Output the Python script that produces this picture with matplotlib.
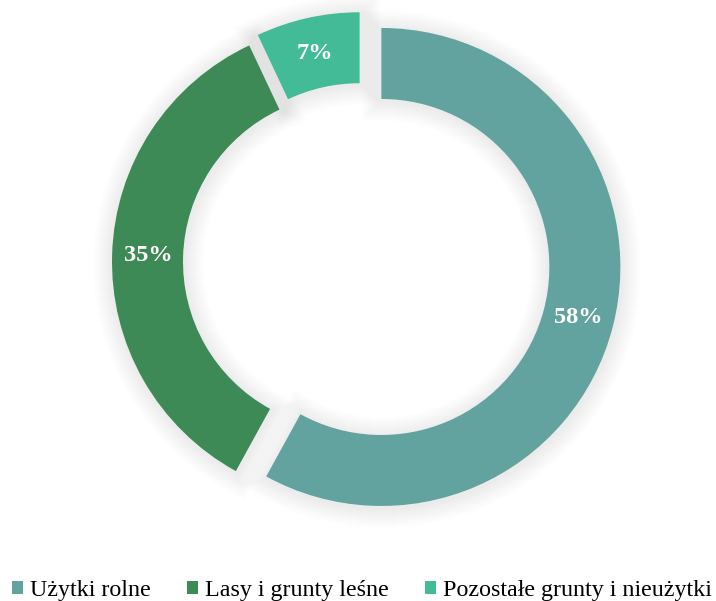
import matplotlib
matplotlib.use("Agg")
import matplotlib.pyplot as plt
from matplotlib.patches import Patch

categories = ["Użytki rolne", "Lasy i grunty leśne", "Pozostałe grunty i nieużytki"]
values = [58, 35, 7]
colors = ["#62A39F", "#3E8A56", "#43BB97"]

W, H = 716, 601
fig = plt.figure(figsize=(W / 100, H / 100), dpi=100)
ax = fig.add_axes([0, 0, 1, 1])

cx, cy = 362, 339
R = 239
ring = 71
explode = [20, 11, 11]

# soft shadow / glow
for lw in range(40, 0, -2):
    ax.pie(values, radius=R, center=(cx + 1, cy - 2), startangle=90, counterclock=False,
           explode=explode,
           wedgeprops=dict(width=ring, facecolor="none",
                           edgecolor=(0, 0, 0, 0.005), linewidth=lw * 0.72),
           frame=True)

wedges, texts, autotexts = ax.pie(
    values, radius=R, center=(cx, cy), startangle=90, counterclock=False,
    explode=explode, colors=colors, autopct="%.0f%%", pctdistance=0.85,
    wedgeprops=dict(width=ring, linewidth=0),
    textprops=dict(color="white", fontsize=17.6, fontweight="bold",
                   family="Liberation Serif"),
    frame=True)

ax.set_xlim(0, W)
ax.set_ylim(0, H)
ax.set_aspect("equal")
ax.axis("off")

handles = [Patch(facecolor=c, edgecolor="none") for c in colors]
fig.legend(handles, categories, loc="center", bbox_to_anchor=(0.5056, 0.017),
           ncol=3, frameon=False, handlelength=0.45, handleheight=0.45,
           handletextpad=0.3, columnspacing=1.5,
           prop=dict(family="Liberation Serif", size=17.3))

fig.savefig("out.png", dpi=100)
